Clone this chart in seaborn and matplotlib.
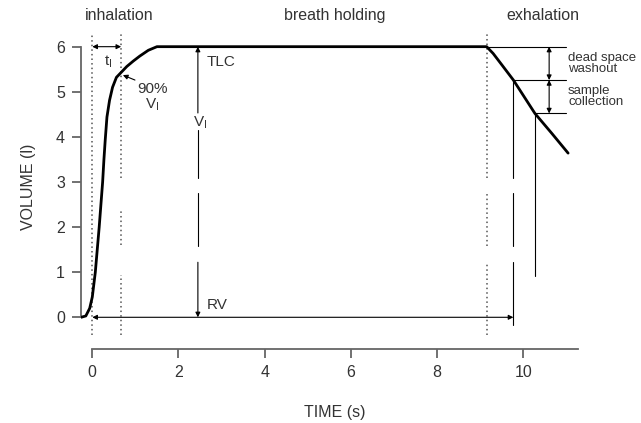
import numpy as np
import pandas as pd
import seaborn as sns
import matplotlib.pyplot as plt

sns.set_theme(style="ticks")
plt.rcParams["font.family"] = ["Liberation Sans", "DejaVu Sans"]
plt.rcParams["mathtext.fontset"] = "custom"
plt.rcParams["mathtext.rm"] = "Liberation Sans"
plt.rcParams["mathtext.it"] = "Liberation Sans"

# volume curve
time_s = [-0.26, -0.15, -0.06, 0.0, 0.07, 0.16, 0.24, 0.27, 0.30, 0.34, 0.40, 0.47, 0.56,
          0.67, 0.80, 0.95, 1.10, 1.30, 1.5, 9.15, 9.30, 9.50, 9.77, 10.27, 10.66, 11.04]
volume_l = [0.0, 0.03, 0.2, 0.45, 1.0, 2.0, 3.0, 3.5, 3.93, 4.44, 4.81, 5.1, 5.32,
            5.43, 5.56, 5.68, 5.79, 5.92, 6.0, 6.0, 5.85, 5.6, 5.26, 4.52, 4.08, 3.64]

# key markers
t_start, t_inhaled, t_exhale = 0.0, 0.67, 9.15
t_washout_end, t_sample_end = 9.77, 10.27
v_tlc, v_rv, v_washout_end, v_sample_end = 6.0, 0.0, 5.26, 4.52
t_vi_line = 2.45

phase_labels = ["inhalation", "breath holding", "exhalation"]
phase_x = [0.63, 5.63, 10.46]

x_ticks = [0, 2, 4, 6, 8, 10]
y_ticks = [0, 1, 2, 3, 4, 5, 6]

GAPS = [(2.76, 3.09), (1.22, 1.57)]
GAPS_INH = [(2.38, 3.08), (0.94, 1.6)]

df = pd.DataFrame({"t": time_s, "v": volume_l})

fig = plt.figure(figsize=(6.41, 4.23), dpi=100)
ax = fig.add_axes([81 / 641, 74 / 423, 549 / 641, 344 / 423])

sns.lineplot(data=df, x="t", y="v", sort=False, estimator=None, color="black", lw=2.0, ax=ax, zorder=5)

ax.set_xlim(-0.262, 12.476)
ax.set_ylim(-0.703, 6.924)


def vseg(x, y0, y1, gaps, **kw):
    # vertical line between y0 and y1 with gaps cut out
    lo, hi = min(y0, y1), max(y0, y1)
    pts = [lo]
    for g0, g1 in sorted(gaps):
        if lo < g0 < hi:
            pts += [g0, g1]
    pts.append(hi)
    for a, b in zip(pts[0::2], pts[1::2]):
        ax.plot([x, x], [a, max(a, min(b, hi))], **kw)


dot = dict(color="#555555", lw=1.1, ls=(0, (1, 2)))
thin = dict(color="black", lw=0.8)

vseg(t_start, -0.4, 6.3, [], **dot)
vseg(t_inhaled, -0.4, 6.3, GAPS_INH, **dot)
vseg(t_exhale, -0.4, 6.3, GAPS, **dot)

# exhalation sampling lines
ax.plot([t_exhale, 11.0], [v_tlc, v_tlc], **thin)
ax.plot([t_washout_end, 11.0], [v_washout_end, v_washout_end], **thin)
ax.plot([t_sample_end, 11.0], [v_sample_end, v_sample_end], **thin)
vseg(t_washout_end, -0.17, v_washout_end, GAPS, **thin)
vseg(t_sample_end, 0.92, v_sample_end, [], **thin)

arr2 = dict(arrowstyle="<|-|>", color="black", lw=0.8, mutation_scale=7, shrinkA=0, shrinkB=0)
arr1 = dict(arrowstyle="-|>", color="black", lw=0.8, mutation_scale=7, shrinkA=0, shrinkB=0)

ax.annotate("", xy=(10.6, v_tlc), xytext=(10.6, v_washout_end), arrowprops=arr2)
ax.annotate("", xy=(10.6, v_washout_end), xytext=(10.6, v_sample_end), arrowprops=arr2)
ax.annotate("", xy=(t_start, v_tlc), xytext=(t_inhaled, v_tlc), arrowprops=arr2)
ax.annotate("", xy=(t_start, v_rv), xytext=(t_washout_end, v_rv), arrowprops=arr2)

# V_I line between RV and TLC
ax.annotate("", xy=(t_vi_line, v_tlc), xytext=(t_vi_line, 4.53), arrowprops=arr1)
vseg(t_vi_line, 1.57, 4.15, GAPS, **thin)
ax.annotate("", xy=(t_vi_line, v_rv), xytext=(t_vi_line, 1.22), arrowprops=arr1)
ax.annotate("", xy=(0.71, 5.37), xytext=(0.99, 5.26), arrowprops=arr1)

txt = dict(color="#333333", fontsize=11)
ax.text(2.5, 4.31, r"V$_\mathrm{I}$", ha="center", va="center", **txt)
ax.text(2.66, 5.67, "TLC", ha="left", va="center", **txt)
ax.text(2.66, 0.27, "RV", ha="left", va="center", **txt)
ax.text(0.36, 5.66, r"t$_\mathrm{I}$", ha="center", va="center", **txt)
ax.text(1.39, 4.87, "90%\n" + r"V$_\mathrm{I}$", ha="center", va="center", linespacing=1.0, **txt)
ax.text(11.04, 5.63, "dead space\nwashout", ha="left", va="center", color="#333333", fontsize=9.5, linespacing=0.85)
ax.text(11.04, 4.9, "sample\ncollection", ha="left", va="center", color="#333333", fontsize=9.5, linespacing=0.85)

for lab, x in zip(phase_labels, phase_x):
    ax.text(x, 6.69, lab, ha="center", va="center", color="#333333", fontsize=11.5)

sns.despine(ax=ax)
for s in ["left", "bottom"]:
    ax.spines[s].set_color("#666666")
    ax.spines[s].set_linewidth(1.3)
ax.spines["left"].set_bounds(0, 6)
ax.spines["bottom"].set_bounds(0, 11.28)
ax.set_xticks(x_ticks)
ax.set_yticks(y_ticks)
ax.tick_params(axis="both", length=6.5, width=1.3, color="#666666", labelcolor="#333333",
               labelsize=11.5, pad=5, direction="out", left=True, bottom=True)

ax.set_xlabel("TIME (s)", fontsize=11.5, color="#333333")
ax.set_ylabel("VOLUME (l)", fontsize=11.5, color="#333333")
ax.xaxis.set_label_coords(0.463, -0.163)
ax.yaxis.set_label_coords(-0.082, 0.471)

fig.savefig("out.png", dpi=100)
